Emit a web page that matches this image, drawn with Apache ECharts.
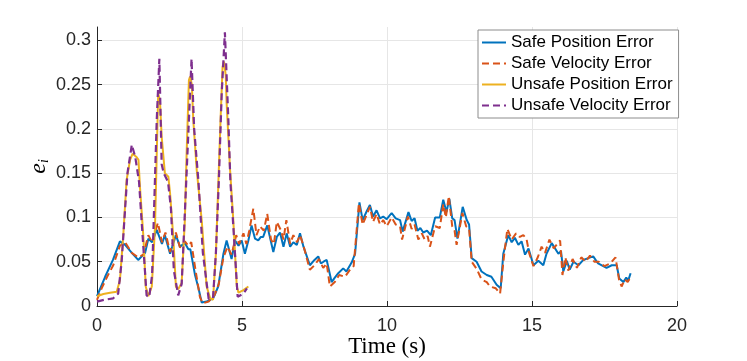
<!DOCTYPE html>
<html>
<head>
<meta charset="utf-8">
<script src="https://cdn.jsdelivr.net/npm/echarts@6/dist/echarts.min.js"></script>
<style>
  html, body { margin: 0; padding: 0; background: #fff; }
  #chart { width: 747px; height: 361px; }
</style>
</head>
<body>
<div id="chart"></div>
<script>
// safe run (blue / orange)
const safePosT = [0, 0.28, 0.55, 0.79, 0.97, 1.2, 1.42, 1.66, 1.77, 1.9, 2.06, 2.24, 2.34, 2.52, 2.72, 2.86, 3.03, 3.15, 3.22, 3.38, 3.5, 3.61, 3.78, 3.9, 4.01, 4.18, 4.36, 4.47, 4.64, 4.76, 4.88, 4.99, 5.1, 5.22, 5.33, 5.45, 5.56, 5.65, 5.73, 5.87, 6.08, 6.2, 6.31, 6.43, 6.54, 6.66, 6.77, 6.89, 7.0, 7.12, 7.34, 7.5, 7.63, 7.72, 7.81, 7.92, 8.09, 8.2, 8.32, 8.49, 8.6, 8.78, 8.9, 9.05, 9.16, 9.3, 9.41, 9.52, 9.64, 9.76, 9.87, 9.99, 10.16, 10.3, 10.45, 10.54, 10.74, 10.85, 10.95, 11.05, 11.15, 11.25, 11.38, 11.51, 11.66, 11.82, 11.94, 12.05, 12.15, 12.25, 12.33, 12.43, 12.61, 12.75, 12.83, 12.92, 13.09, 13.26, 13.44, 13.6, 13.78, 13.92, 14.01, 14.18, 14.3, 14.41, 14.53, 14.64, 14.76, 14.88, 15.05, 15.22, 15.39, 15.5, 15.68, 15.91, 16.0, 16.08, 16.2, 16.3, 16.43, 16.6, 16.77, 16.94, 17.11, 17.28, 17.57, 17.75, 17.92, 18.01, 18.15, 18.25, 18.32, 18.4]
const safePos = [0.011, 0.033, 0.052, 0.073, 0.069, 0.06, 0.052, 0.06, 0.076, 0.072, 0.086, 0.07, 0.08, 0.059, 0.08, 0.067, 0.071, 0.064, 0.064, 0.035, 0.02, 0.004, 0.005, 0.007, 0.009, 0.022, 0.059, 0.074, 0.053, 0.074, 0.068, 0.074, 0.059, 0.074, 0.091, 0.076, 0.074, 0.078, 0.078, 0.091, 0.061, 0.078, 0.083, 0.067, 0.082, 0.067, 0.072, 0.069, 0.082, 0.067, 0.046, 0.052, 0.056, 0.048, 0.05, 0.052, 0.027, 0.032, 0.037, 0.0425, 0.039, 0.049, 0.059, 0.117, 0.097, 0.107, 0.114, 0.101, 0.108, 0.099, 0.101, 0.098, 0.105, 0.099, 0.097, 0.084, 0.106, 0.096, 0.099, 0.085, 0.088, 0.083, 0.085, 0.08, 0.1, 0.1, 0.12, 0.106, 0.121, 0.099, 0.097, 0.076, 0.112, 0.097, 0.092, 0.054, 0.05, 0.039, 0.035, 0.033, 0.024, 0.02, 0.059, 0.08, 0.072, 0.077, 0.069, 0.073, 0.058, 0.065, 0.046, 0.051, 0.046, 0.059, 0.071, 0.059, 0.062, 0.039, 0.051, 0.041, 0.05, 0.046, 0.052, 0.054, 0.056, 0.048, 0.043, 0.046, 0.046, 0.031, 0.027, 0.032, 0.029, 0.037]

const safeVelT = [0, 0.16, 0.35, 0.56, 0.79, 0.97, 1.2, 1.42, 1.6, 1.77, 1.9, 2.1, 2.24, 2.36, 2.52, 2.72, 2.86, 3.03, 3.15, 3.25, 3.4, 3.55, 3.65, 3.85, 4.05, 4.2, 4.36, 4.5, 4.64, 4.8, 4.9, 5.05, 5.15, 5.25, 5.39, 5.5, 5.62, 5.75, 5.87, 6.0, 6.1, 6.2, 6.35, 6.43, 6.53, 6.66, 6.77, 6.9, 7.0, 7.12, 7.34, 7.5, 7.65, 7.8, 7.92, 8.03, 8.2, 8.35, 8.55, 8.7, 8.85, 9.03, 9.16, 9.3, 9.41, 9.52, 9.64, 9.76, 9.87, 9.99, 10.16, 10.3, 10.45, 10.52, 10.72, 10.85, 10.95, 11.08, 11.2, 11.3, 11.4, 11.48, 11.66, 11.82, 11.94, 12.03, 12.13, 12.25, 12.33, 12.4, 12.6, 12.73, 12.83, 12.92, 13.09, 13.26, 13.44, 13.55, 13.75, 13.9, 14.03, 14.15, 14.3, 14.45, 14.58, 14.7, 14.81, 14.9, 15.05, 15.2, 15.33, 15.45, 15.6, 15.75, 15.97, 16.05, 16.15, 16.25, 16.4, 16.55, 16.7, 16.85, 17.0, 17.15, 17.3, 17.5, 17.7, 17.88, 18.0, 18.09, 18.2, 18.3, 18.4]
const safeVel = [0.007, 0.02, 0.033, 0.046, 0.068, 0.072, 0.06, 0.055, 0.058, 0.08, 0.072, 0.094, 0.072, 0.083, 0.061, 0.083, 0.066, 0.073, 0.068, 0.072, 0.04, 0.01, 0.003, 0.005, 0.012, 0.025, 0.055, 0.067, 0.058, 0.08, 0.07, 0.082, 0.07, 0.085, 0.11, 0.08, 0.09, 0.085, 0.104, 0.075, 0.07, 0.095, 0.085, 0.075, 0.097, 0.07, 0.08, 0.072, 0.08, 0.068, 0.041, 0.046, 0.053, 0.043, 0.048, 0.022, 0.027, 0.035, 0.033, 0.04, 0.045, 0.116, 0.092, 0.103, 0.112, 0.095, 0.104, 0.092, 0.097, 0.09, 0.1, 0.092, 0.09, 0.075, 0.101, 0.087, 0.092, 0.075, 0.082, 0.075, 0.079, 0.067, 0.09, 0.088, 0.115, 0.1, 0.124, 0.09, 0.085, 0.069, 0.105, 0.09, 0.088, 0.05, 0.042, 0.03, 0.027, 0.022, 0.02, 0.014, 0.055, 0.087, 0.075, 0.082, 0.078, 0.08, 0.076, 0.06, 0.045, 0.055, 0.067, 0.06, 0.075, 0.065, 0.074, 0.035, 0.055, 0.04, 0.053, 0.043, 0.055, 0.05, 0.057, 0.05, 0.05, 0.045, 0.048, 0.055, 0.03, 0.022, 0.03, 0.027, 0.033]

// unsafe run (yellow / purple)
const unsafePosT = [0, 0.22, 0.45, 0.68, 0.79, 0.91, 1.02, 1.14, 1.23, 1.37, 1.43, 1.48, 1.6, 1.68, 1.77, 1.89, 2.0, 2.06, 2.11, 2.17, 2.23, 2.34, 2.46, 2.52, 2.63, 2.72, 2.8, 2.92, 3.03, 3.09, 3.17, 3.21, 3.27, 3.32, 3.44, 3.61, 3.78, 3.9, 4.0, 4.1, 4.18, 4.26, 4.33, 4.38, 4.44, 4.47, 4.59, 4.7, 4.82, 4.88, 5.05, 5.22]
const unsafePos = [0.011, 0.0135, 0.015, 0.016, 0.029, 0.082, 0.142, 0.165, 0.172, 0.168, 0.165, 0.135, 0.078, 0.022, 0.011, 0.022, 0.089, 0.172, 0.24, 0.232, 0.191, 0.15, 0.146, 0.127, 0.078, 0.022, 0.019, 0.026, 0.097, 0.172, 0.255, 0.259, 0.25, 0.21, 0.153, 0.097, 0.022, 0.009, 0.007, 0.059, 0.135, 0.21, 0.27, 0.276, 0.26, 0.229, 0.153, 0.097, 0.022, 0.015, 0.018, 0.022]

const unsafeVelT = [0, 0.25, 0.56, 0.73, 0.85, 0.95, 1.05, 1.2, 1.32, 1.45, 1.55, 1.71, 1.8, 1.9, 2.06, 2.15, 2.23, 2.3, 2.45, 2.55, 2.65, 2.8, 2.92, 3.09, 3.26, 3.35, 3.5, 3.65, 3.85, 4.0, 4.1, 4.2, 4.3, 4.41, 4.53, 4.6, 4.7, 4.85, 5.05, 5.17]
const unsafeVel = [0.005, 0.007, 0.0087, 0.014, 0.05, 0.1, 0.15, 0.182, 0.168, 0.14, 0.09, 0.012, 0.01, 0.035, 0.21, 0.279, 0.16, 0.15, 0.14, 0.11, 0.04, 0.012, 0.025, 0.15, 0.279, 0.2, 0.14, 0.06, 0.008, 0.009, 0.06, 0.14, 0.24, 0.309, 0.21, 0.14, 0.09, 0.0105, 0.014, 0.02]

const xTicks = [0, 5, 10, 15, 20]

const pairs = (ts, vs) => ts.map((t, i) => [t, vs[i]])

const dom = echarts.init(document.getElementById('chart'))

const axisColor = '#262626'
const gridColor = '#e6e6e6'
const labelFont = 'Liberation Sans, Arial, sans-serif'
const texFont = 'Liberation Serif, DejaVu Serif, serif'

const option = {
  backgroundColor: '#fff',
  animation: false,
  grid: { left: 97, right: 70, top: 27, bottom: 55, containLabel: false, outerBoundsMode: 'none' },
  legend: {
    orient: 'vertical',
    left: 478,
    top: 30,
    padding: [3, 6, 3, 3],
    itemGap: 2,
    itemWidth: 24,
    itemHeight: 10,
    backgroundColor: '#fff',
    borderColor: '#8c8c8c',
    borderWidth: 1,
    itemStyle: { color: 'transparent', borderWidth: 0, opacity: 0 },
    textStyle: { fontFamily: labelFont, fontSize: 17, color: '#000', lineHeight: 19, padding: [0, 0, 0, 0] },
    data: ['Safe Position Error', 'Safe Velocity Error', 'Unsafe Position Error', 'Unsafe Velocity Error']
  },
  xAxis: {
    type: 'value',
    min: xTicks[0],
    max: xTicks[xTicks.length - 1],
    interval: 5,
    name: 'Time (s)',
    nameLocation: 'middle',
    nameGap: 29,
    nameMoveOverlap: false,
    nameTextStyle: { fontFamily: texFont, fontSize: 23, color: '#000' },
    axisLine: { lineStyle: { color: axisColor } },
    axisTick: { inside: true, length: 5, lineStyle: { color: axisColor } },
    axisLabel: { fontFamily: labelFont, fontSize: 18, color: '#262626', margin: 11 },
    splitLine: { show: true, lineStyle: { color: gridColor } }
  },
  yAxis: {
    type: 'value',
    min: 0,
    max: 0.315,
    interval: 0.05,
    name: '{e|e}{i|i}',
    nameLocation: 'middle',
    nameGap: 46,
    nameMoveOverlap: false,
    nameRotate: 90,
    nameTextStyle: {
      rich: {
        e: { fontFamily: texFont, fontStyle: 'italic', fontSize: 24, color: '#000' },
        i: { fontFamily: texFont, fontStyle: 'italic', fontSize: 14, color: '#000', verticalAlign: 'bottom', padding: [10, 0, 0, 0] }
      }
    },
    axisLine: { show: true, lineStyle: { color: axisColor } },
    axisTick: { show: true, inside: true, length: 5, lineStyle: { color: axisColor } },
    axisLabel: { fontFamily: labelFont, fontSize: 18, color: '#262626', margin: 6, showMaxLabel: false },
    splitLine: { show: true, showMaxLine: false, lineStyle: { color: gridColor } }
  },
  series: [
    {
      name: 'Safe Position Error', type: 'line', symbol: 'none',
      lineStyle: { color: '#0072BD', width: 2 }, itemStyle: { color: '#0072BD' },
      data: pairs(safePosT, safePos)
    },
    {
      name: 'Safe Velocity Error', type: 'line', symbol: 'none',
      lineStyle: { color: '#D95319', width: 2, type: [7, 4] }, itemStyle: { color: '#D95319' },
      data: pairs(safeVelT, safeVel)
    },
    {
      name: 'Unsafe Position Error', type: 'line', symbol: 'none',
      lineStyle: { color: '#EDB120', width: 2 }, itemStyle: { color: '#EDB120' },
      data: pairs(unsafePosT, unsafePos)
    },
    {
      name: 'Unsafe Velocity Error', type: 'line', symbol: 'none',
      lineStyle: { color: '#7E2F8E', width: 2.2, type: [7, 4] }, itemStyle: { color: '#7E2F8E' },
      data: pairs(unsafeVelT, unsafeVel)
    }
  ]
}

dom.setOption(option)
</script>
</body>
</html>
